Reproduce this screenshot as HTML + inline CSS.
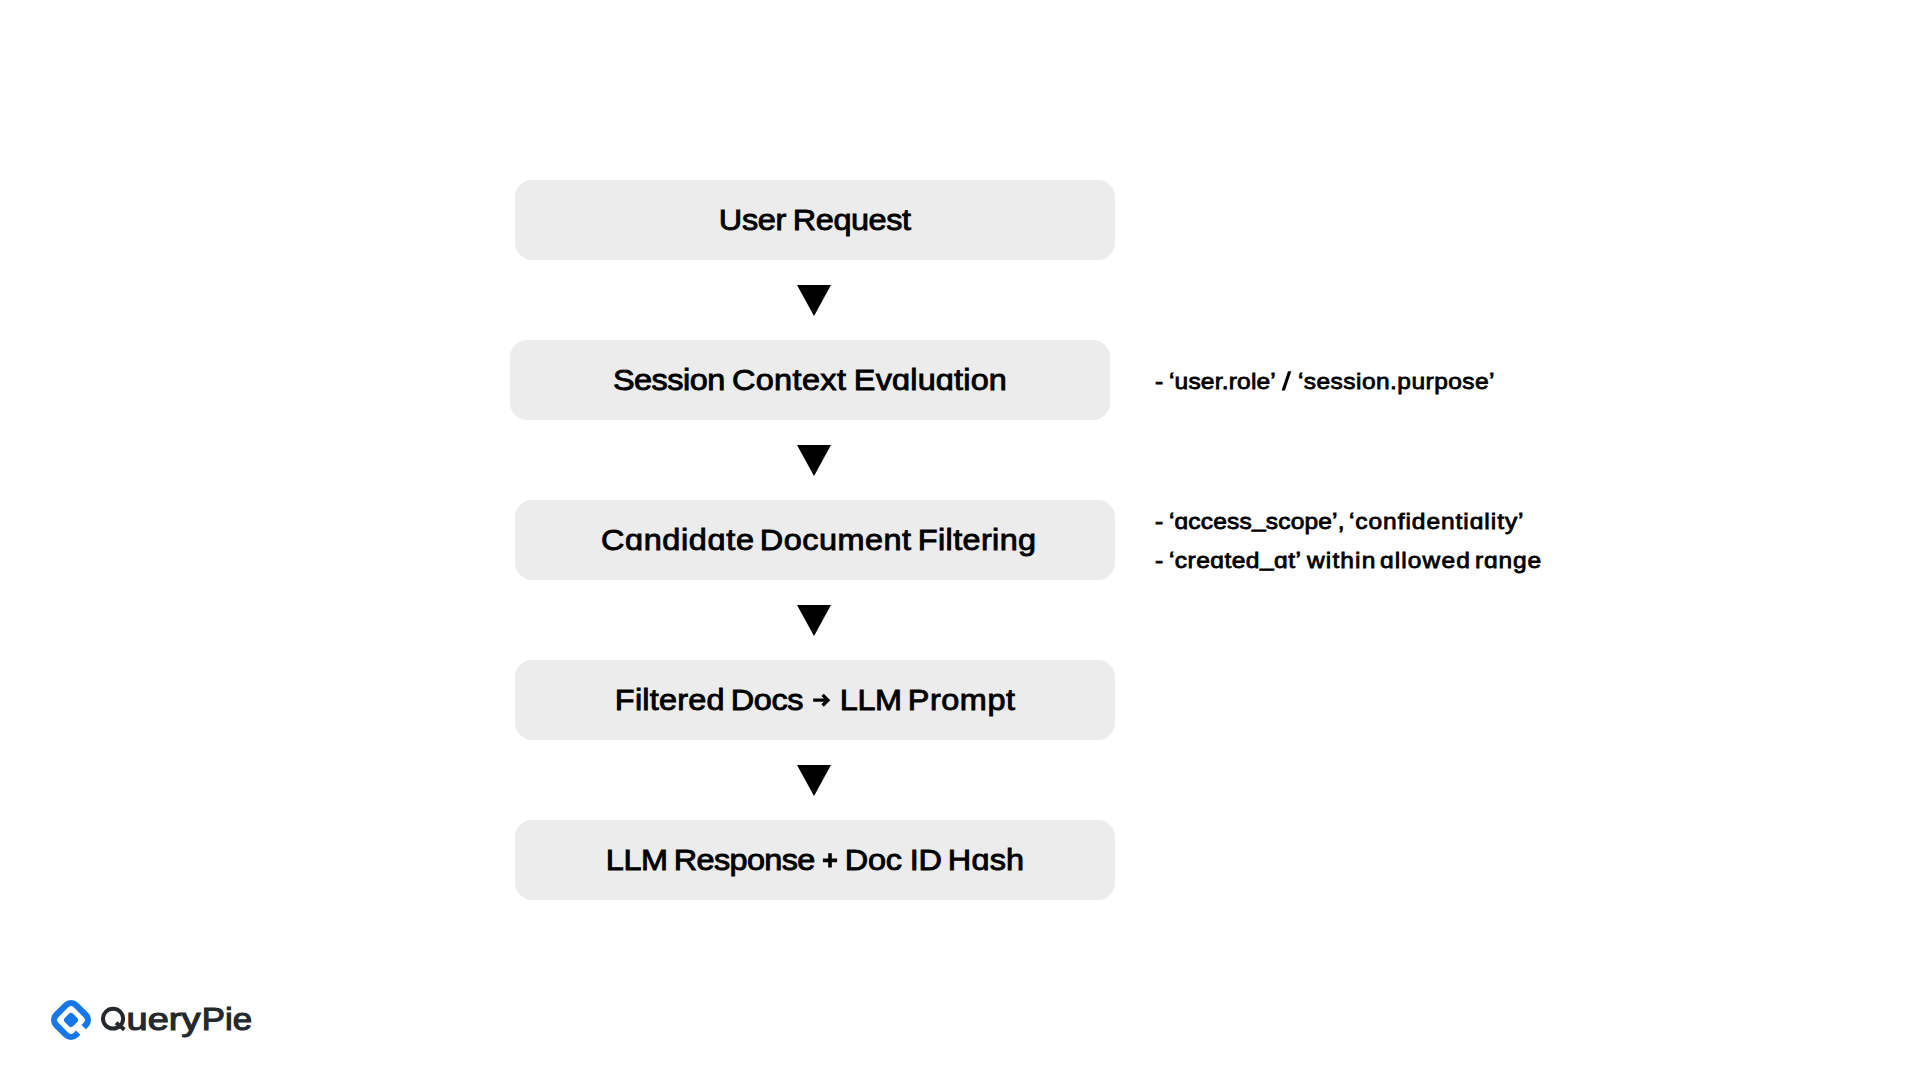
<!DOCTYPE html>
<html><head><meta charset="utf-8">
<style>
html,body{margin:0;padding:0;background:#fff;}
body{width:1920px;height:1080px;position:relative;overflow:hidden;font-family:"Liberation Sans",sans-serif;color:#000;}
.box{position:absolute;width:600px;height:80px;background:#ececec;border-radius:17px;}
.tri{position:absolute;width:0;height:0;border-left:17.75px solid transparent;border-right:17.75px solid transparent;border-top:31px solid #000;}
.tx{position:absolute;white-space:nowrap;line-height:1;}
</style></head><body>
<div class="box" style="left:515px;top:180px"></div>
<div class="box" style="left:510px;top:340px"></div>
<div class="box" style="left:515px;top:500px"></div>
<div class="box" style="left:515px;top:660px"></div>
<div class="box" style="left:515px;top:820px"></div>
<div class="tri" style="left:797.25px;top:285px"></div>
<div class="tri" style="left:797.25px;top:445px"></div>
<div class="tri" style="left:797.25px;top:605px"></div>
<div class="tri" style="left:797.25px;top:765px"></div>
<div class="tx" style="left:718.6px;top:205.2px;font-size:30px;-webkit-text-stroke:0.9px #000;letter-spacing:-0.309px;transform:scaleX(1.0800);transform-origin:2px 0">User</div>
<div class="tx" style="left:792.6px;top:205.2px;font-size:30px;-webkit-text-stroke:0.9px #000;letter-spacing:-0.389px;transform:scaleX(1.0800);transform-origin:2px 0">Request</div>
<div class="tx" style="left:613.3px;top:364.6px;font-size:30px;-webkit-text-stroke:0.9px #000;letter-spacing:-0.438px;transform:scaleX(1.0800);transform-origin:1px 0">Session</div>
<div class="tx" style="left:731.9px;top:364.6px;font-size:30px;-webkit-text-stroke:0.9px #000;letter-spacing:0.361px;transform:scaleX(1.0800);transform-origin:1px 0">Context</div>
<div class="tx" style="left:853.6px;top:364.6px;font-size:30px;-webkit-text-stroke:0.9px #000;letter-spacing:0.177px;transform:scaleX(1.0800);transform-origin:2px 0">Ev&#593;lu&#593;tion</div>
<div class="tx" style="left:600.5px;top:524.6px;font-size:30px;-webkit-text-stroke:0.9px #000;letter-spacing:0.611px;transform:scaleX(1.0800);transform-origin:1px 0">C&#593;ndid&#593;te</div>
<div class="tx" style="left:759.7px;top:524.6px;font-size:30px;-webkit-text-stroke:0.9px #000;letter-spacing:0.447px;transform:scaleX(1.0800);transform-origin:2px 0">Document</div>
<div class="tx" style="left:918.0px;top:524.6px;font-size:30px;-webkit-text-stroke:0.9px #000;letter-spacing:0.352px;transform:scaleX(1.0800);transform-origin:2px 0">Filtering</div>
<div class="tx" style="left:614.9px;top:684.9px;font-size:30px;-webkit-text-stroke:0.9px #000;letter-spacing:0.228px;transform:scaleX(1.0800);transform-origin:2px 0">Filtered</div>
<div class="tx" style="left:730.5px;top:684.9px;font-size:30px;-webkit-text-stroke:0.9px #000;letter-spacing:-0.37px;transform:scaleX(1.0800);transform-origin:2px 0">Docs</div>
<div class="tx" style="left:839.7px;top:684.9px;font-size:30px;-webkit-text-stroke:0.9px #000;letter-spacing:-0.435px;transform:scaleX(1.0800);transform-origin:2px 0">LLM</div>
<div class="tx" style="left:907.6px;top:684.9px;font-size:30px;-webkit-text-stroke:0.9px #000;letter-spacing:0.496px;transform:scaleX(1.0800);transform-origin:2px 0">Prompt</div>
<div class="tx" style="left:605.7px;top:845.2px;font-size:30px;-webkit-text-stroke:0.9px #000;letter-spacing:-0.435px;transform:scaleX(1.0800);transform-origin:2px 0">LLM</div>
<div class="tx" style="left:673.8px;top:845.2px;font-size:30px;-webkit-text-stroke:0.9px #000;letter-spacing:-0.593px;transform:scaleX(1.0800);transform-origin:2px 0">Response</div>
<svg style="position:absolute;left:820px;top:851px" width="20" height="20" viewBox="820 851 20 20"><path d="M822.9 860.4 H837.1 M830 853.3 V867.5" stroke="#000" stroke-width="3.6" fill="none"/></svg>
<div class="tx" style="left:845.1px;top:845.2px;font-size:30px;-webkit-text-stroke:0.9px #000;letter-spacing:-0.185px;transform:scaleX(1.0800);transform-origin:2px 0">Doc</div>
<div class="tx" style="left:909.7px;top:845.2px;font-size:30px;-webkit-text-stroke:0.9px #000;letter-spacing:-0.352px;transform:scaleX(1.0800);transform-origin:2px 0">ID</div>
<div class="tx" style="left:948.0px;top:845.2px;font-size:30px;-webkit-text-stroke:0.9px #000;letter-spacing:0.191px;transform:scaleX(1.0800);transform-origin:2px 0">H&#593;sh</div>
<div class="tx" style="left:1154.9px;top:371.0px;font-size:22.5px;-webkit-text-stroke:0.8px #000;letter-spacing:0.343px;transform:scaleX(1.0900);transform-origin:1px 0">-</div>
<div class="tx" style="left:1169.3px;top:371.0px;font-size:22.5px;-webkit-text-stroke:0.8px #000;letter-spacing:0.177px;transform:scaleX(1.0900);transform-origin:1px 0"><span style="position:relative;top:-1.5px">&#8216;</span>user.role<span style="position:relative;top:-1.5px">&#8217;</span></div>
<svg style="position:absolute;left:1280px;top:370px" width="14" height="22" viewBox="1280 370 14 22"><polygon points="1281.6,390.6 1284.9,390.6 1291.3,371.2 1288.0,371.2" fill="#000"/></svg>
<div class="tx" style="left:1298.1px;top:371.0px;font-size:22.5px;-webkit-text-stroke:0.8px #000;letter-spacing:0.408px;transform:scaleX(1.0900);transform-origin:1px 0"><span style="position:relative;top:-1.5px">&#8216;</span>session.purpose<span style="position:relative;top:-1.5px">&#8217;</span></div>
<div class="tx" style="left:1154.8px;top:511.0px;font-size:22.5px;-webkit-text-stroke:0.8px #000;letter-spacing:0.561px;transform:scaleX(1.0900);transform-origin:1px 0">-</div>
<div class="tx" style="left:1169.3px;top:511.0px;font-size:22.5px;-webkit-text-stroke:0.8px #000;letter-spacing:0.161px;transform:scaleX(1.0900);transform-origin:1px 0"><span style="position:relative;top:-1.5px">&#8216;</span>&#593;ccess<span style="position:relative;top:-2px">_</span>scope<span style="position:relative;top:-1.5px">&#8217;</span>,</div>
<div class="tx" style="left:1348.7px;top:511.0px;font-size:22.5px;-webkit-text-stroke:0.8px #000;letter-spacing:0.868px;transform:scaleX(1.0900);transform-origin:1px 0"><span style="position:relative;top:-1.5px">&#8216;</span>confidenti&#593;lity<span style="position:relative;top:-1.5px">&#8217;</span></div>
<div class="tx" style="left:1154.8px;top:550.0px;font-size:22.5px;-webkit-text-stroke:0.8px #000;letter-spacing:0.646px;transform:scaleX(1.0900);transform-origin:1px 0">-</div>
<div class="tx" style="left:1169.3px;top:550.0px;font-size:22.5px;-webkit-text-stroke:0.8px #000;letter-spacing:0.428px;transform:scaleX(1.0900);transform-origin:1px 0"><span style="position:relative;top:-1.5px">&#8216;</span>cre&#593;ted<span style="position:relative;top:-2px">_</span>&#593;t<span style="position:relative;top:-1.5px">&#8217;</span></div>
<div class="tx" style="left:1306.6px;top:550.0px;font-size:22.5px;-webkit-text-stroke:0.8px #000;letter-spacing:1.029px;transform:scaleX(1.0900);transform-origin:0px 0">within</div>
<div class="tx" style="left:1380.25px;top:550.0px;font-size:22.5px;-webkit-text-stroke:0.8px #000;letter-spacing:1.037px;transform:scaleX(1.0900);transform-origin:1px 0">&#593;llowed</div>
<div class="tx" style="left:1474.6px;top:550.0px;font-size:22.5px;-webkit-text-stroke:0.8px #000;letter-spacing:0.814px;transform:scaleX(1.0900);transform-origin:1px 0">r&#593;nge</div>
<div class="tx" style="left:126.6px;top:1004.0px;font-size:31px;-webkit-text-stroke:1.1px #25292d;color:#25292d;letter-spacing:0px;transform:scaleX(1.2259);transform-origin:2px 0">uery</div>
<div class="tx" style="left:201.9px;top:1004.0px;font-size:31px;-webkit-text-stroke:1.1px #25292d;color:#25292d;letter-spacing:0px;transform:scaleX(1.1220);transform-origin:2px 0">Pie</div>
<svg style="position:absolute;left:812px;top:693px" width="20" height="15" viewBox="0 0 20 15"><path d="M1.2 7.2 H15.5 M10.6 1.9 L15.9 7.2 L10.6 12.5" fill="none" stroke="#000" stroke-width="3.3"/></svg>
<svg style="position:absolute;left:98px;top:1004px" width="32" height="30" viewBox="98 1004 32 30"><ellipse cx="113.05" cy="1018.7" rx="10.05" ry="9.9" fill="none" stroke="#25292d" stroke-width="4.0"/><path d="M116 1022.8 L124.4 1029.6" stroke="#25292d" stroke-width="4.0" fill="none"/></svg>
<svg style="position:absolute;left:51px;top:1000px" width="40" height="40" viewBox="-20 -20 40 40">
<g transform="rotate(45)" fill="none" stroke="#1877e8" stroke-width="6.2">
<path d="M14.0,3.9 L14.0,7.0 A7,7 0 0 1 7.0,14.0 L-7.0,14.0 A7,7 0 0 1 -14.0,7.0 L-14.0,-7.0 A7,7 0 0 1 -7.0,-14.0 L7.0,-14.0 A7,7 0 0 1 14.0,-7.0 L14.0,-3.9"/>
<rect x="-5.9" y="-5.9" width="11.8" height="11.8" rx="3.2" fill="#1877e8" stroke="none"/>
</g></svg>
</body></html>
